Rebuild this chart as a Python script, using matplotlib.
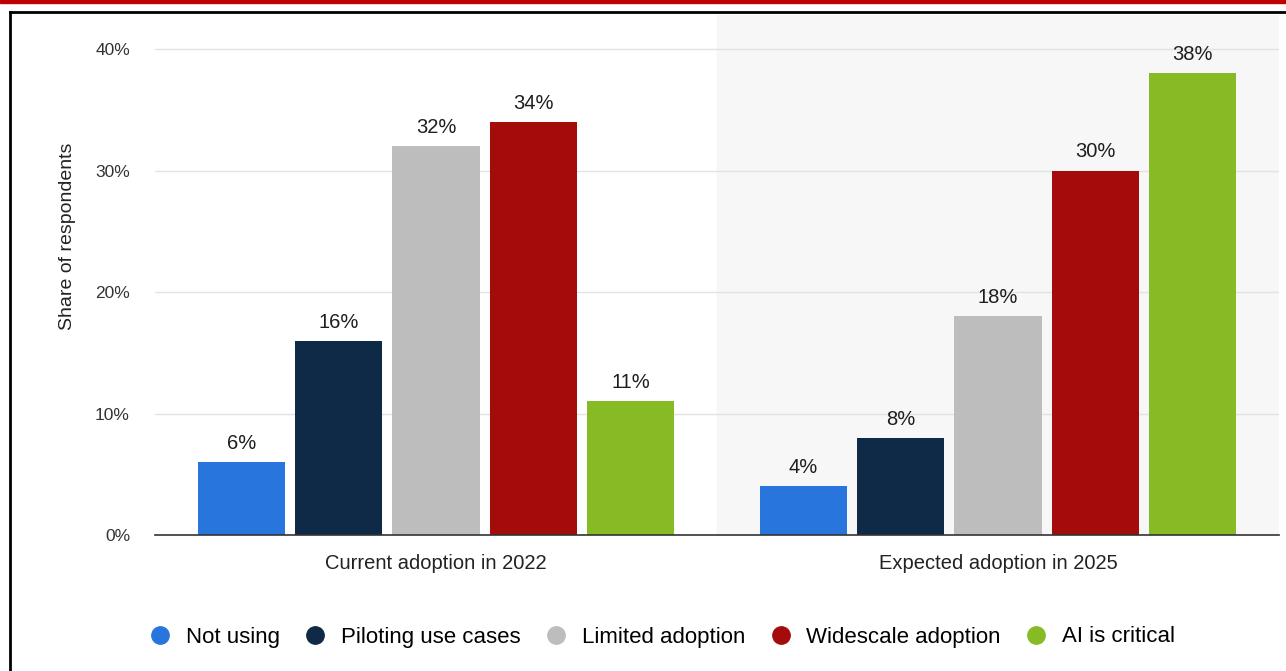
import matplotlib
matplotlib.use("Agg")
import matplotlib.pyplot as plt
import numpy as np
from matplotlib.lines import Line2D
from matplotlib.patches import Rectangle

plt.rcParams['font.family'] = ['Liberation Sans', 'DejaVu Sans']

categories = ["Current adoption in 2022", "Expected adoption in 2025"]
series = ["Not using", "Piloting use cases", "Limited adoption", "Widescale adoption", "AI is critical"]
values = {
    "Not using": [6, 4],
    "Piloting use cases": [16, 8],
    "Limited adoption": [32, 18],
    "Widescale adoption": [34, 30],
    "AI is critical": [11, 38],
}
colors = ["#2876dd", "#0e2a47", "#bdbdbd", "#a40b0b", "#86bb26"]
yticks = [0, 10, 20, 30, 40]

W, H = 1286, 671
fig = plt.figure(figsize=(W / 100, H / 100), dpi=100)
ax = fig.add_axes([155 / W, 1 - 535 / H, (1279 - 155) / W, (535 - 15) / H])

x = np.arange(len(categories))
bw = 0.155
step = 0.173
for i, (s, c) in enumerate(zip(series, colors)):
    off = (i - 2) * step
    bars = ax.bar(x + off, values[s], width=bw, color=c, zorder=3)
    for b, v in zip(bars, values[s]):
        ax.annotate(f"{v}%", (b.get_x() + b.get_width() / 2, v), xytext=(0, 6.5),
                    textcoords="offset points", ha="center", va="bottom",
                    fontsize=14.5, color="#1e1e1e", zorder=4)

ax.set_xlim(-0.5, 1.5)
ax.set_ylim(0, 40 * 520 / 486)
ax.axvspan(0.5, 1.5, color="#f7f7f7", zorder=0)
ax.set_yticks(yticks)
ax.set_yticklabels([f"{t}%" for t in yticks], fontsize=12.5, color="#333333")
ax.set_xticks(x)
ax.set_xticklabels(categories, fontsize=14.5, color="#222222")
ax.tick_params(axis="both", length=0)
ax.tick_params(axis="y", pad=18)
ax.tick_params(axis="x", pad=14)
for t in yticks[1:]:
    ax.axhline(t, color="#e2e2e2", lw=1, zorder=1)
for sp in ["top", "right", "left"]:
    ax.spines[sp].set_visible(False)
ax.spines["bottom"].set_color("#333333")
ax.spines["bottom"].set_linewidth(1.2)
ax.spines["bottom"].set_zorder(5)
ax.set_facecolor("none")
ax.set_ylabel("Share of respondents", fontsize=14, color="#222222")
ax.yaxis.set_label_coords(-0.0705, (535 - 236) / 520)

handles = [Line2D([], [], marker="o", linestyle="none", markersize=12.5,
                  markerfacecolor=c, markeredgecolor=c) for c in colors]
fig.legend(handles, series, loc="center", bbox_to_anchor=(662 / W, 1 - 637 / H),
           ncol=5, frameon=False, fontsize=16, handlelength=1.0,
           handletextpad=0.65, columnspacing=1.1)

# frame decorations
fig.patches.append(Rectangle((0, 1 - 3 / H), 1, 3 / H, transform=fig.transFigure,
                             color="#c00000", zorder=10))
fig.add_artist(Line2D([9.5 / W, 1], [1 - 11.5 / H, 1 - 11.5 / H], transform=fig.transFigure,
                      color="black", lw=2))
fig.add_artist(Line2D([9.5 / W, 9.5 / W], [0, 1 - 11.5 / H], transform=fig.transFigure,
                      color="black", lw=2))

fig.savefig("out.png", dpi=100)
